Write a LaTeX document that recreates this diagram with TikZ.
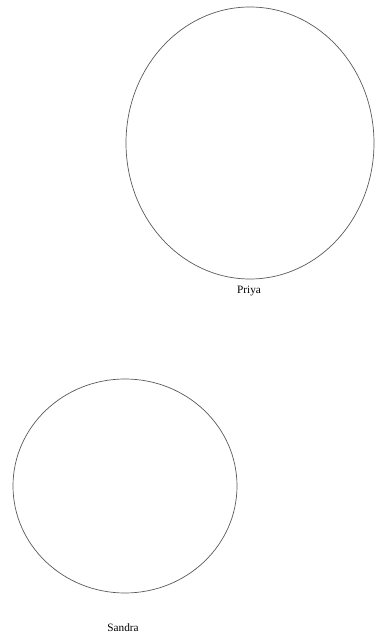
\documentclass[tikz,border=0pt]{standalone}
\usepackage{fontspec}
\setmainfont{Liberation Serif}
\usetikzlibrary{shapes.geometric}
\definecolor{rim}{RGB}{90,90,90}

\begin{document}
\begin{tikzpicture}
\useasboundingbox (0.000,0.000) rectangle (9.375,15.925);
\tikzset{person/.style={ellipse, draw=rim, line width=0.5pt, inner sep=0pt}}
\node[person, minimum width=6.200cm, minimum height=6.800cm] (priya) at (6.250,12.350) {};
\node[person, minimum width=5.600cm, minimum height=5.350cm] (sandra) at (3.125,3.775) {};
\node[font=\footnotesize] (priyaname) at (6.225,8.650) {Priya};
\node[font=\footnotesize] (sandraname) at (3.075,0.225) {Sandra};
\end{tikzpicture}
\end{document}
